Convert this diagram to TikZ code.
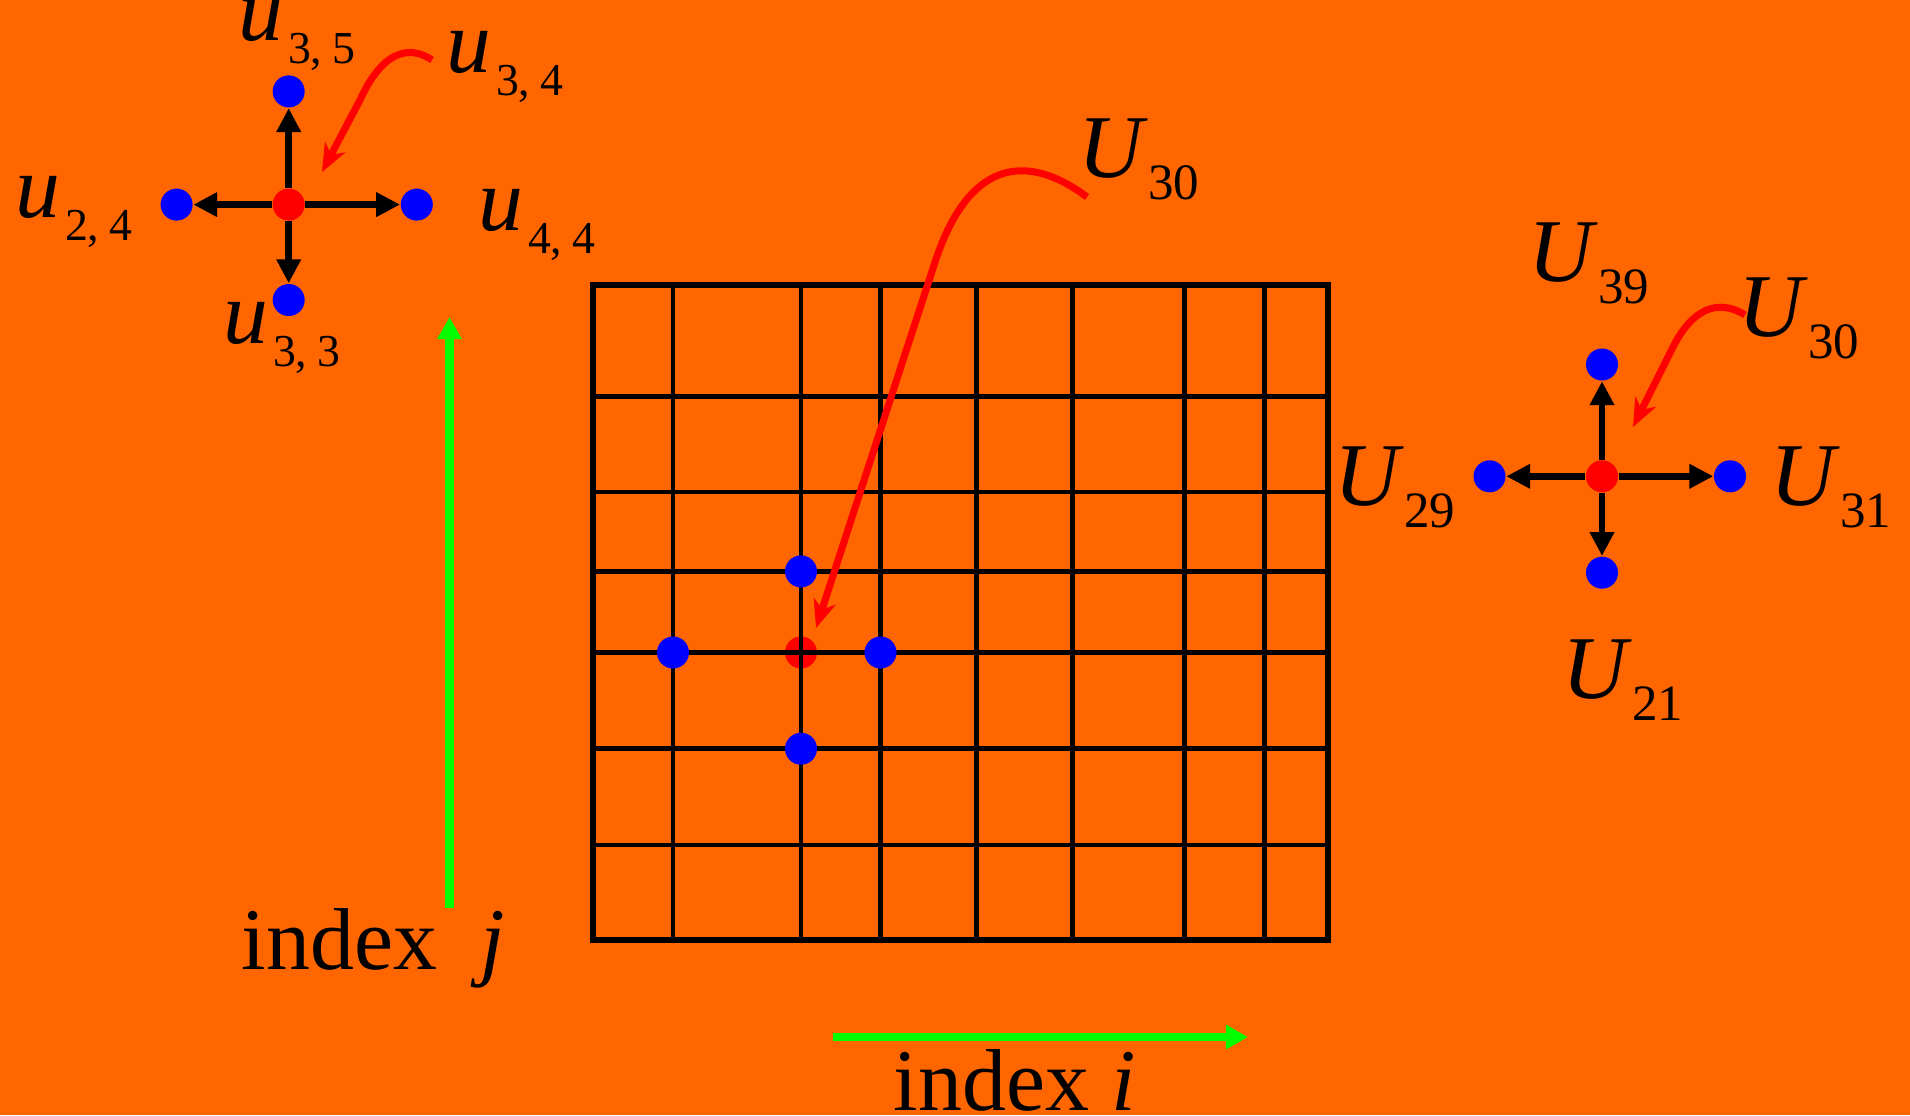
\documentclass[tikz,border=0pt]{standalone}
\usepackage{fontspec}
\setmainfont{Liberation Serif}
\usetikzlibrary{arrows.meta}

\definecolor{bgorange}{RGB}{255,102,0}
\definecolor{dotblue}{RGB}{0,0,255}
\definecolor{dotred}{RGB}{255,0,0}
\definecolor{idxgreen}{RGB}{0,255,0}

% 上标下标标签
\newcommand{\Ulab}[2]{\textit{#1}\raisebox{-0.22cm}{\fontsize{14.5}{16}\selectfont #2}}
\newcommand{\ulab}[2]{\textit{#1}\kern0.05em\raisebox{-0.23cm}{\fontsize{13}{15}\selectfont #2}}

\begin{document}
\begin{tikzpicture}[x=0.01cm,y=-0.01cm]
	
	% 定义样式
	\tikzset{
		gdot/.style = {
			circle, inner sep=0pt,
			minimum size = 0.32cm
		},
		bluedot/.style = {gdot, fill=dotblue},
		reddot/.style = {gdot, fill=dotred},
		stencil/.style = {
			line width=1.9pt,
			-{Triangle[length=6.8pt,width=6.6pt]}
		},
		pointer/.style = {
			dotred, line width=2pt,
			-{Stealth[length=8pt,width=6.5pt,inset=2.5pt]}
		},
		idxarrow/.style = {
			idxgreen, line width=2.3pt,
			-{Triangle[length=6.3pt,width=6.6pt]}
		},
		lab/.style = {
			anchor=base west, inner sep=0pt,
			font=\fontsize{25.5}{30}\selectfont
		}
	}
	
	% 背景
	\fill[bgorange] (0,0) rectangle (1910,1115);
	\useasboundingbox (0,0) rectangle (1910,1115);
	
	% 网格
	\node[reddot] (gc) at (801,652.5) {};
	\foreach \x in {673,801,880.5,976.5,1072.5,1184.5,1264.5} {
		\draw[line width=1.35pt] (\x,285) -- (\x,940);
	}
	\foreach \y in {396.5,492,571.4,652.5,748.7,845} {
		\draw[line width=1.35pt] (593,\y) -- (1328,\y);
	}
	\draw[line width=1.45pt] (593,285) rectangle (1328,940);
	\node[bluedot] (gn) at (801,571.4) {};
	\node[bluedot] (gw) at (673,652.5) {};
	\node[bluedot] (ge) at (880.5,652.5) {};
	\node[bluedot] (gs) at (801,748.7) {};
	
	% 网格中的指示箭头
	\node[lab] (U30g) at (1078,177) {\Ulab{U}{30}};
	\coordinate (g30s) at (1087,197);
	\coordinate (g30b) at (935,262);
	\coordinate (g30e) at (816,628);
	\draw[pointer] (g30s) .. controls (1035,158) and (972,150) .. (g30b) -- (g30e);
	
	% 左上角五点格式
	\node[reddot] (lc) at (288.7,204.6) {};
	\node[bluedot] (ln) at (288.7,91.4) {};
	\node[bluedot] (lw) at (176.6,204.6) {};
	\node[bluedot] (le) at (416.8,204.6) {};
	\node[bluedot] (ls) at (288.7,300) {};
	\foreach \t in {ln,lw,le,ls} {
		\draw[stencil] (lc) -- (\t);
	}
	\node[lab] (u35) at (238,40) {\ulab{u}{3,\kern3pt5}};
	\node[lab] (u34) at (446,72) {\ulab{u}{3,\kern3pt4}};
	\node[lab] (u24) at (15,217) {\ulab{u}{2,\kern3pt4}};
	\node[lab] (u44) at (478,230) {\ulab{u}{4,\kern3pt4}};
	\node[lab] (u33) at (223,343) {\ulab{u}{3,\kern3pt3}};
	\coordinate (l34s) at (432,60);
	\coordinate (l34b) at (360,100);
	\coordinate (l34e) at (322,172);
	\draw[pointer] (l34s) .. controls (408,44) and (382,52) .. (l34b) -- (l34e);
	
	% 右侧五点格式
	\node[reddot] (rc) at (1602,476.3) {};
	\node[bluedot] (rn) at (1602,364.5) {};
	\node[bluedot] (rw) at (1489.5,476.3) {};
	\node[bluedot] (re) at (1730,476.3) {};
	\node[bluedot] (rs) at (1602,572.7) {};
	\foreach \t in {rn,rw,re,rs} {
		\draw[stencil] (rc) -- (\t);
	}
	\node[lab] (U39) at (1528,281) {\Ulab{U}{39}};
	\node[lab] (U30r) at (1738,336) {\Ulab{U}{30}};
	\node[lab] (U29) at (1334,505) {\Ulab{U}{29}};
	\node[lab] (U31) at (1770,505) {\Ulab{U}{31}};
	\node[lab] (U21) at (1562,698) {\Ulab{U}{21}};
	\coordinate (r30s) at (1745,315);
	\coordinate (r30b) at (1673,347);
	\coordinate (r30e) at (1633,427);
	\draw[pointer] (r30s) .. controls (1718,298) and (1692,309) .. (r30b) -- (r30e);
	
	% 下标方向
	\coordinate (j0) at (449.5,908);
	\coordinate (j1) at (449.5,317);
	\draw[idxarrow] (j0) -- (j1);
	\node[lab, font=\fontsize{25}{30}\selectfont] (idxj) at (241,969) {index\hspace{0.5em}\textit{j}};
	\coordinate (i0) at (833,1037);
	\coordinate (i1) at (1248,1037);
	\draw[idxarrow] (i0) -- (i1);
	\node[lab, font=\fontsize{25}{30}\selectfont] (idxi) at (893,1110) {index \textit{i}};
	
\end{tikzpicture}
\end{document}
